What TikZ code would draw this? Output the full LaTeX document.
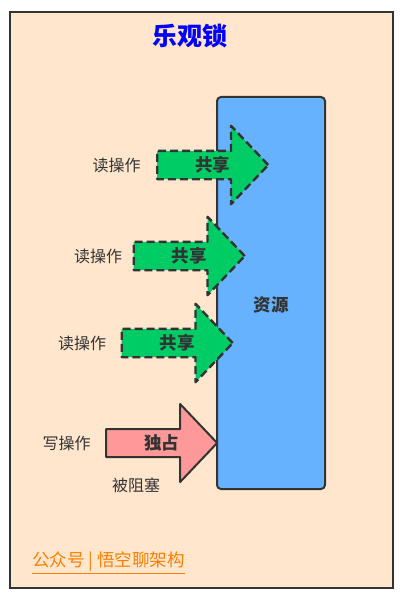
\documentclass[tikz,border=0pt]{standalone}
\usepackage{fontspec}
\setmainfont{Noto Sans CJK SC}
\usepackage{tikz}
\usetikzlibrary{positioning}
\usetikzlibrary{shapes.arrows}
\usetikzlibrary{calc}

\definecolor{paper}{HTML}{FFE6CC}
\definecolor{edge}{HTML}{333333}
\definecolor{resblue}{HTML}{66B2FF}
\definecolor{sharegreen}{HTML}{00CC66}
\definecolor{lockpink}{HTML}{FF9999}
\definecolor{footorange}{HTML}{FF8000}

\begin{document}
\begin{tikzpicture}[x=1pt,y=-1pt,
    op arrow/.style={single arrow,draw=edge,line width=2pt,line join=round,inner xsep=0pt,inner ysep=13pt,
      minimum height=111pt,single arrow head extend=25pt,single arrow tip angle=93},
    share arrow/.style={op arrow,fill=sharegreen,line width=2.4pt,dash pattern=on 8pt off 4pt},
    lock arrow/.style={op arrow,fill=lockpink},
    op name/.style={text=edge,font=\fontsize{16}{16}\selectfont},
    arrow name/.style={text=edge,font=\fontsize{17.5}{17.5}\selectfont\bfseries}]
    \useasboundingbox (0,0) rectangle (405,599);
    \draw[fill=paper,draw=edge,line width=2.2pt] (10,12) rectangle (393,588);
    \node[text=blue,font=\fontsize{25}{25}\selectfont\bfseries] (title) at (190,36) {乐观锁};
    \node[draw=edge,fill=resblue,line width=2pt,rounded corners=4pt,
      minimum width=108pt,minimum height=392pt] (res) at (271,293) {};
    \node[arrow name] (res text) at ([yshift=-12pt]res.center) {资源};
    \node[share arrow] (share a) at (206,165) {};
    \node[share arrow] (share b) at (182.5,256) {};
    \node[share arrow] (share c) at (170.5,343) {};
    \node[lock arrow] (lock d) at (155,443) {};
    \node[arrow name] at ($(share a.tail)!0.5!(share a.tip)$) {共享};
    \node[arrow name] at ($(share b.tail)!0.5!(share b.tip)$) {共享};
    \node[arrow name] at ($(share c.tail)!0.5!(share c.tip)$) {共享};
    \node[arrow name] at ($(lock d.tail)!0.5!(lock d.tip)$) {独占};
    \node[op name,left=12pt of share a.tail] (read a) {读操作};
    \node[op name,left=7pt of share b.tail] (read b) {读操作};
    \node[op name,left=11pt of share c.tail] (read c) {读操作};
    \node[op name,left=11pt of lock d.tail] (write d) {写操作};
    \node[op name] (blocked) at (136,485) {被阻塞};
    \node[anchor=west,inner sep=0pt,text=footorange,font=\fontsize{17.5}{17.5}\selectfont] (footer) at (32,563)
      {\underline{公众号 | 悟空聊架构}};
\end{tikzpicture}
\end{document}
